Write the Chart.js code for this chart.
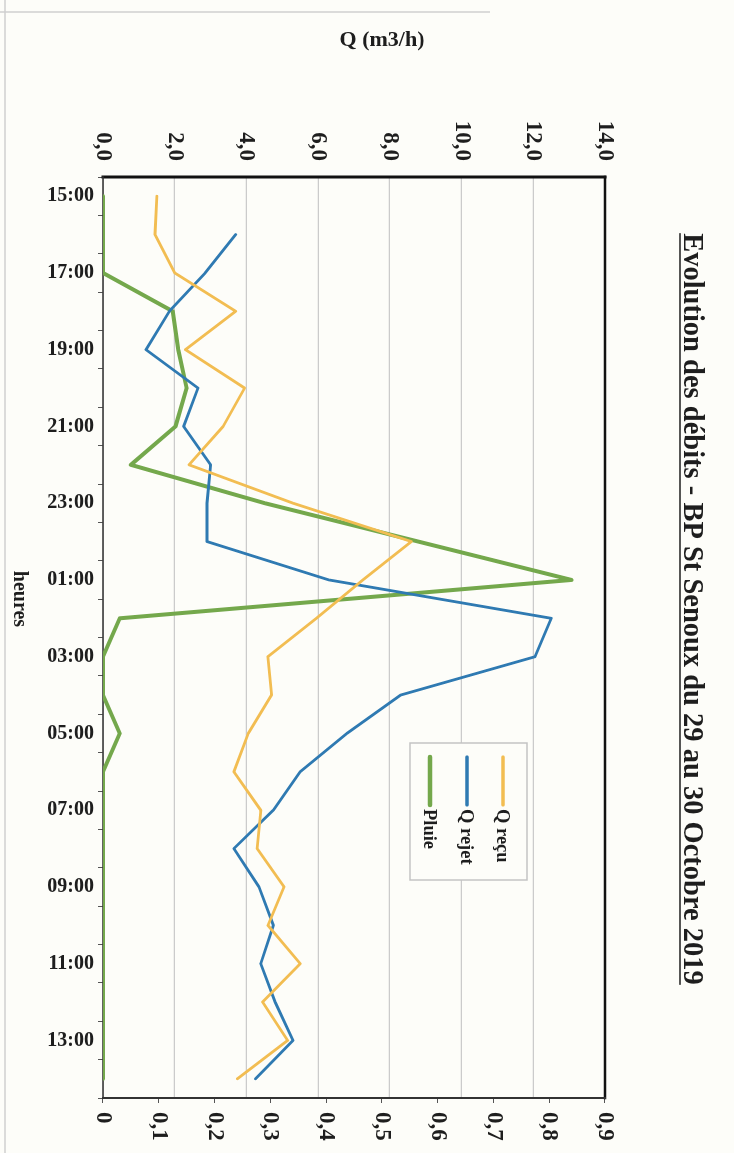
<!DOCTYPE html>
<html>
<head>
<meta charset="utf-8">
<script src="https://cdn.jsdelivr.net/npm/chart.js@4/dist/chart.umd.min.js"></script>
<style>
  html, body { margin: 0; padding: 0; background: #fdfdf9; overflow: hidden; }
  /* the chart is laid out landscape and turned a quarter clockwise onto the portrait page */
  #sheet { position: absolute; left: 734px; top: 0; width: 1153px; height: 734px;
           transform-origin: 0 0; transform: rotate(90deg); }
  canvas { display: block; }
</style>
</head>
<body>
<div id="sheet"><canvas id="chart" width="1153" height="734"></canvas></div>
<script>
// hourly readings, 29 Oct 15:00 -> 30 Oct 14:00
const hours = ['15:00','16:00','17:00','18:00','19:00','20:00','21:00','22:00','23:00','00:00','01:00','02:00',
               '03:00','04:00','05:00','06:00','07:00','08:00','09:00','10:00','11:00','12:00','13:00','14:00'];

// flow received (m3/h)
const qRecu  = [1.5, 1.45, 2.0, 3.7, 2.3, 3.95, 3.35, 2.4, 5.3, 8.6, 7.25, 5.95,
                4.6, 4.7, 4.05, 3.65, 4.4, 4.3, 5.05, 4.6, 5.5, 4.45, 5.15, 3.75];

// flow discharged (m3/h)
const qRejet = [null, 3.7, 2.85, 1.85, 1.2, 2.65, 2.25, 3.0, 2.9, 2.9, 6.3, 12.5,
                12.05, 8.3, 6.8, 5.5, 4.75, 3.65, 4.35, 4.75, 4.4, 4.8, 5.3, 4.25];

// rainfall (right-hand axis)
const pluie  = [0, 0, 0, 0.125, 0.135, 0.15, 0.13, 0.05, 0.29, 0.565, 0.84, 0.03,
                0, 0, 0.03, 0, 0, 0, 0, 0, 0, 0, 0, 0];

const titleText = 'Evolution des débits - BP St Senoux du 29 au 30 Octobre 2019';
const qAxisTitle = 'Q (m3/h)';
const hourAxisTitle = 'heures';

const SERIF = "'Liberation Serif', 'Times New Roman', serif";
const INK = '#1e1e1e';
const colors = { recu: '#F2BD52', rejet: '#2F7AB2', pluie: '#74A84C' };

const decimalComma = (v, d) => v.toFixed(d).replace('.', ',');

// frame, titles and the boxed legend drawn around the plot
const decorations = {
  id: 'decorations',
  beforeDatasetsDraw(chart) {
    const { ctx, chartArea: a } = chart;
    ctx.save();
    ctx.lineCap = 'square';
    ctx.strokeStyle = '#111';
    ctx.lineWidth = 3;
    ctx.beginPath(); ctx.moveTo(a.left, a.top); ctx.lineTo(a.left, a.bottom); ctx.stroke();
    ctx.lineWidth = 2.5;
    ctx.beginPath(); ctx.moveTo(a.left, a.top); ctx.lineTo(a.right, a.top); ctx.stroke();
    ctx.strokeStyle = '#333';
    ctx.lineWidth = 2;
    ctx.beginPath(); ctx.moveTo(a.right, a.top); ctx.lineTo(a.right, a.bottom); ctx.stroke();
    ctx.lineWidth = 1.5;
    ctx.beginPath(); ctx.moveTo(a.left, a.bottom); ctx.lineTo(a.right, a.bottom); ctx.stroke();
    ctx.restore();
  },
  afterDraw(chart) {
    const { ctx } = chart;
    ctx.save();

    // outer sheet edges
    ctx.strokeStyle = '#cfcfcf';
    ctx.lineWidth = 1.5;
    ctx.beginPath(); ctx.moveTo(12, 244); ctx.lineTo(12, 734); ctx.stroke();
    ctx.beginPath(); ctx.moveTo(0, 729); ctx.lineTo(1153, 729); ctx.stroke();

    // main title, underlined
    ctx.fillStyle = INK;
    ctx.font = `bold 28.5px ${SERIF}`;
    ctx.textAlign = 'center';
    ctx.textBaseline = 'alphabetic';
    const tx = 609, ty = 50;
    ctx.fillText(titleText, tx, ty);
    const tw = ctx.measureText(titleText).width;
    ctx.strokeStyle = INK;
    ctx.lineWidth = 1.6;
    ctx.beginPath(); ctx.moveTo(tx - tw / 2, ty + 4); ctx.lineTo(tx + tw / 2, ty + 4); ctx.stroke();

    // flow axis title
    ctx.save();
    ctx.translate(40, 352);
    ctx.rotate(-Math.PI / 2);
    ctx.font = `bold 22px ${SERIF}`;
    ctx.textBaseline = 'middle';
    ctx.fillText(qAxisTitle, 0, 0);
    ctx.restore();

    // time axis title
    ctx.font = `bold 20px ${SERIF}`;
    ctx.textAlign = 'center';
    ctx.textBaseline = 'alphabetic';
    ctx.fillText(hourAxisTitle, 599, 720);

    // legend box
    const box = { x: 743, y: 207, w: 137, h: 117 };
    ctx.fillStyle = '#fdfdf9';
    ctx.fillRect(box.x, box.y, box.w, box.h);
    ctx.strokeStyle = '#c4c4c4';
    ctx.lineWidth = 1.5;
    ctx.strokeRect(box.x, box.y, box.w, box.h);
    const entries = chart.data.datasets.map((ds, i) => ({ ds, y: [231, 267, 304][i] }));
    ctx.font = `bold 18.5px ${SERIF}`;
    ctx.textAlign = 'left';
    ctx.textBaseline = 'middle';
    entries.forEach(({ ds, y }) => {
      ctx.strokeStyle = ds.borderColor;
      ctx.lineWidth = ds.borderWidth + 0.5;
      ctx.lineCap = 'round';
      ctx.beginPath(); ctx.moveTo(757, y); ctx.lineTo(805, y); ctx.stroke();
      ctx.fillStyle = INK;
      ctx.fillText(ds.label, 809, y + 1);
    });

    ctx.restore();
  }
};

new Chart(document.getElementById('chart'), {
  type: 'line',
  data: {
    labels: hours,
    datasets: [
      { label: 'Q reçu',  data: qRecu,  borderColor: colors.recu,  borderWidth: 2.8, yAxisID: 'y' },
      { label: 'Q rejet', data: qRejet, borderColor: colors.rejet, borderWidth: 2.8, yAxisID: 'y' },
      { label: 'Pluie',   data: pluie,  borderColor: colors.pluie, borderWidth: 4,   yAxisID: 'y1' }
    ]
  },
  options: {
    responsive: false,
    animation: false,
    devicePixelRatio: 1,
    layout: { padding: { top: 129, left: 0, right: 0, bottom: 0 } },
    elements: {
      point: { radius: 0 },
      line: { tension: 0, borderJoinStyle: 'round', borderCapStyle: 'round' }
    },
    plugins: { legend: { display: false }, title: { display: false }, tooltip: { enabled: false } },
    scales: {
      x: {
        offset: true,
        grid: { offset: true, drawOnChartArea: false, tickLength: 5, color: '#555' },
        border: { display: false },
        ticks: {
          autoSkip: false, maxRotation: 90, minRotation: 90, padding: 4, color: INK,
          font: { family: SERIF, size: 20, weight: 'bold' },
          callback: (v, i) => (i % 2 === 0 ? hours[i] : '')
        },
        afterFit: s => { s.height = 103; }
      },
      y: {
        position: 'left', min: 0, max: 14,
        grid: { color: '#cbcbcb', lineWidth: 1.2, drawTicks: false },
        border: { display: false },
        ticks: {
          stepSize: 2, padding: 16, color: INK,
          font: { family: SERIF, size: 23, weight: 'bold' },
          callback: v => decimalComma(v, 1)
        },
        afterFit: s => { s.width = 177; }
      },
      y1: {
        position: 'right', min: 0, max: 0.9,
        grid: { drawOnChartArea: false, tickLength: 5, color: '#555' },
        border: { display: false },
        ticks: {
          stepSize: 0.1, padding: 9, color: INK,
          font: { family: SERIF, size: 23, weight: 'bold' },
          callback: v => (Math.abs(v) < 1e-9 ? '0' : decimalComma(v, 1))
        },
        afterFit: s => { s.width = 55; }
      }
    }
  },
  plugins: [decorations]
});
</script>
</body>
</html>
